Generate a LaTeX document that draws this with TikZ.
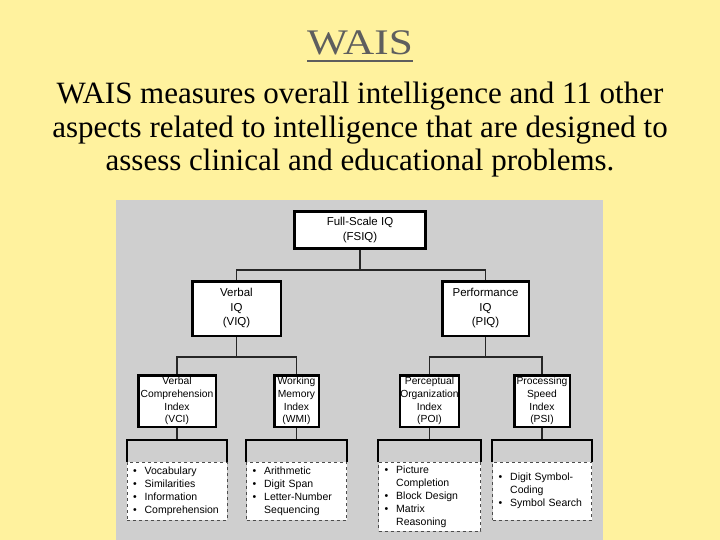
\documentclass[tikz,border=0pt]{standalone}
\usepackage{fontspec}
\setmainfont{Liberation Serif}
\setsansfont{Liberation Sans}
\newfontfamily\headfont{Liberation Serif}[FakeStretch=1.2]
\usetikzlibrary{positioning}
\definecolor{slideyellow}{HTML}{FFF29E}
\definecolor{panelgray}{HTML}{CFCFCF}
\definecolor{titlegray}{HTML}{5E5E5E}

\begin{document}
\begin{tikzpicture}[
      x=1pt, y=-1pt,
      topbox/.style={
         rectangle,
         draw=black, line width=3pt,
         fill=white,
         minimum width=131pt, minimum height=37pt,
         inner sep=1pt,
         font=\sffamily\fontsize{11.5}{14.5}\selectfont,
         align=center
      },
      iqbox/.style={
         rectangle,
         draw=black, line width=2.5pt,
         fill=white,
         minimum height=54.5pt,
         inner sep=1pt,
         font=\sffamily\fontsize{11.5}{14.5}\selectfont,
         align=center
      },
      indexbox/.style={
         rectangle,
         draw=black, line width=2.5pt,
         fill=white,
         minimum height=51.5pt,
         inner sep=0.5pt,
         font=\sffamily\fontsize{10.3}{12.7}\selectfont,
         align=center
      },
      subtests/.style={
         rectangle,
         draw=black!70, dashed, line width=0.6pt,
         fill=white,
         minimum width=100pt, text width=92pt,
         minimum height=58pt,
         inner xsep=4pt, inner ysep=2pt,
         font=\sffamily\fontsize{10.5}{13}\selectfont,
         align=left
      },
      link/.style={draw=black!85, line width=1.3pt},
      bracket/.style={draw=black, line width=2pt},
    ]
    % slide and panel
    \fill[slideyellow] (0,0) rectangle (720,540);
    \fill[panelgray] (116,200) rectangle (603,540);
    \useasboundingbox (0,0) rectangle (720,540);

    % heading
    \node (title) [anchor=base, inner sep=0pt, text=titlegray,
                   font=\headfont\fontsize{36}{38}\selectfont] at (360,55) {WAIS};
    \draw[titlegray, line width=2.5pt]
       ([yshift=-6pt]title.base west) -- ([yshift=-6pt]title.base east);
    \node (intro) [anchor=north, align=center, inner sep=0pt,
                   font=\fontsize{31}{33.5}\selectfont] at (360,82)
       {WAIS measures overall intelligence and 11 other\\
        aspects related to intelligence that are designed to\\
        assess clinical and educational problems.};

    % hierarchy
    \node (fsiq) [topbox] at (360,230) {Full-Scale IQ\\(FSIQ)};
    \node (viq) [iqbox, minimum width=88.5pt] at (236.5,308.5) {Verbal\\IQ\\(VIQ)};
    \node (piq) [iqbox, minimum width=86.5pt] at (485.5,308.5) {Performance\\IQ\\(PIQ)};

    \node (vci) [indexbox, minimum width=77.5pt] at (177,401)
       {Verbal\\Comprehension\\Index\\(VCI)};
    \node (wmi) [indexbox, minimum width=44.5pt] at (296.5,401)
       {Working\\Memory\\Index\\(WMI)};
    \node (poi) [indexbox, minimum width=58.5pt] at (429.5,401)
       {Perceptual\\Organization\\Index\\(POI)};
    \node (psi) [indexbox, minimum width=55.5pt] at (542,401)
       {Processing\\Speed\\Index\\(PSI)};

    % subtest lists
    \node (vcilist) [subtests, below=34pt of vci]
       {\begin{tabular}{@{\hspace{2pt}}l@{\hspace{8pt}}l@{}}
        \textbullet & Vocabulary\\
        \textbullet & Similarities\\
        \textbullet & Information\\
        \textbullet & Comprehension
        \end{tabular}};
    \node (wmilist) [subtests, below=34pt of wmi]
       {\begin{tabular}{@{\hspace{2pt}}l@{\hspace{8pt}}l@{}}
        \textbullet & Arithmetic\\
        \textbullet & Digit Span\\
        \textbullet & Letter-Number\\
                    & Sequencing
        \end{tabular}};
    \node (poilist) [subtests, minimum width=102pt, text width=94pt, below=34pt of poi]
       {\begin{tabular}{@{\hspace{2pt}}l@{\hspace{8pt}}l@{}}
        \textbullet & Picture\\
                    & Completion\\
        \textbullet & Block Design\\
        \textbullet & Matrix\\
                    & Reasoning
        \end{tabular}};
    \node (psilist) [subtests, minimum width=99pt, text width=91pt, below=34pt of psi]
       {\begin{tabular}{@{\hspace{2pt}}l@{\hspace{8pt}}l@{}}
        \textbullet & Digit Symbol-\\
                    & Coding\\
        \textbullet & Symbol Search
        \end{tabular}};

    % connectors
    \draw[link] (fsiq.south) -- ++(0,20) -| (viq.north);
    \draw[link] (fsiq.south) -- ++(0,20) -| (piq.north);
    \draw[link] (viq.south) -- ++(0,20) -| (vci.north);
    \draw[link] (viq.south) -- ++(0,20) -| (wmi.north);
    \draw[link] (piq.south) -- ++(0,20) -| (poi.north);
    \draw[link] (piq.south) -- ++(0,20) -| (psi.north);

    % brackets over the lists
    \draw[link] (vci.south) -- ([yshift=22pt]vcilist.north);
    \draw[bracket] (vcilist.north west) -- ++(0,-22) -| (vcilist.north east);
    \draw[link] (wmi.south) -- ([yshift=22pt]wmilist.north);
    \draw[bracket] (wmilist.north west) -- ++(0,-22) -| (wmilist.north east);
    \draw[link] (poi.south) -- ([yshift=22pt]poilist.north);
    \draw[bracket] (poilist.north west) -- ++(0,-22) -| (poilist.north east);
    \draw[link] (psi.south) -- ([yshift=22pt]psilist.north);
    \draw[bracket] (psilist.north west) -- ++(0,-22) -| (psilist.north east);
\end{tikzpicture}
\end{document}
